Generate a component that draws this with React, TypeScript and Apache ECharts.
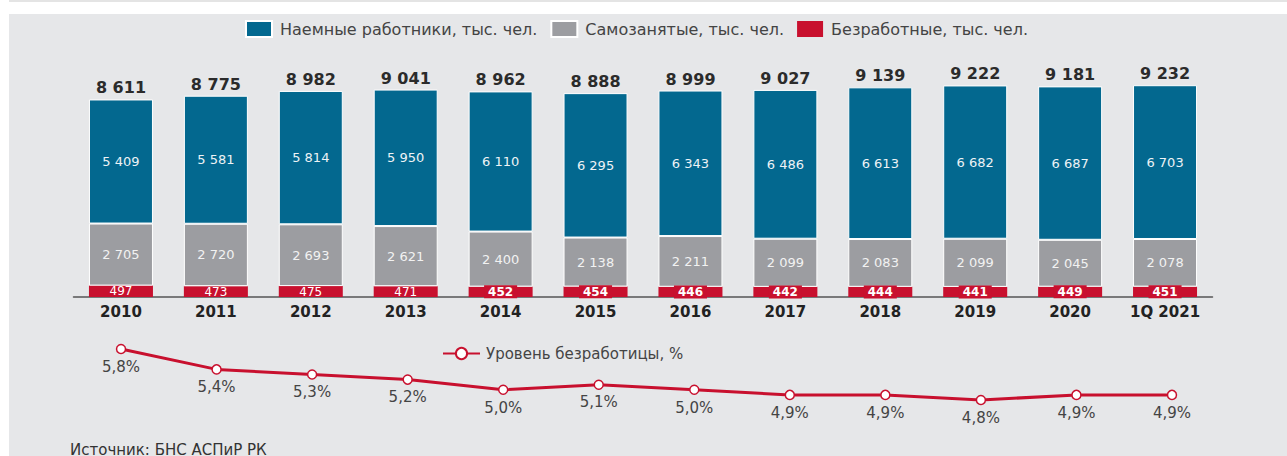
import React, { useEffect, useRef } from "react";
import * as echarts from "echarts";

const categories = ["2010", "2011", "2012", "2013", "2014", "2015", "2016", "2017", "2018", "2019", "2020", "1Q 2021"];
const hired = [5409, 5581, 5814, 5950, 6110, 6295, 6343, 6486, 6613, 6682, 6687, 6703];
const selfEmployed = [2705, 2720, 2693, 2621, 2400, 2138, 2211, 2099, 2083, 2099, 2045, 2078];
const unemployed = [497, 473, 475, 471, 452, 454, 446, 442, 444, 441, 449, 451];
const totals = [8611, 8775, 8982, 9041, 8962, 8888, 8999, 9027, 9139, 9222, 9181, 9232];
const rate = [5.8, 5.4, 5.3, 5.2, 5.0, 5.1, 5.0, 4.9, 4.9, 4.8, 4.9, 4.9];

const NAME_HIRED = "Наемные работники, тыс. чел.";
const NAME_SELF = "Самозанятые, тыс. чел.";
const NAME_UNEMP = "Безработные, тыс. чел.";
const NAME_RATE = "Уровень безработицы, %";

const BLUE = "#03688f";
const GRAY = "#9c9da1";
const RED = "#c8102e";
const FONT = "DejaVu Sans";

const fmt = (v: number) => String(v).replace(/\B(?=(\d{3})+(?!\d))/g, " ");

export default function App() {
  const ref = useRef<HTMLDivElement>(null);
  useEffect(() => {
    if (!ref.current) return;
    const chart = echarts.init(ref.current, undefined, { renderer: "svg" });
    chart.setOption({
      animation: false,
      backgroundColor: "#ffffff",
      textStyle: { fontFamily: FONT },
      graphic: [
        { type: "rect", z: -10, shape: { x: 9, y: 0, width: 1278, height: 2 }, style: { fill: "#e4e4e4" } },
        { type: "rect", z: -10, shape: { x: 9, y: 14, width: 1278, height: 442 }, style: { fill: "#e6e7e9" } },
        {
          type: "text",
          left: 70,
          top: 442,
          style: { text: "Источник: БНС АСПиР РК", fill: "#333", font: `15px ${FONT}` },
        },
      ],
      legend: [
        {
          data: [NAME_HIRED, NAME_SELF, NAME_UNEMP],
          left: 245,
          top: 20,
          padding: 0,
          itemWidth: 26,
          itemHeight: 16,
          itemGap: 13,
          icon: "rect",
          textStyle: { fontSize: 16, color: "#444", fontFamily: FONT, padding: [0, 0, 0, 3] },
        },
        {
          data: [NAME_RATE],
          left: 442,
          top: 346,
          padding: 0,
          itemWidth: 37,
          itemHeight: 14,
          textStyle: { fontSize: 15, color: "#444", fontFamily: FONT, padding: [0, 0, 0, 1] },
        },
      ],
      grid: [
        { left: 73.5, width: 1139, top: 67.6, height: 229.4 },
        { left: 73.25, width: 1146.5, top: 338.8, height: 102 },
      ],
      xAxis: [
        {
          type: "category",
          gridIndex: 0,
          data: categories,
          axisLine: { lineStyle: { color: "#555", width: 1.5 } },
          axisTick: { show: false },
          axisLabel: { fontSize: 15, fontWeight: "bold", color: "#222", margin: 7, fontFamily: FONT },
        },
        {
          type: "category",
          gridIndex: 1,
          data: categories,
          show: false,
        },
      ],
      yAxis: [
        { type: "value", gridIndex: 0, min: 0, max: 10000, show: false },
        { type: "value", gridIndex: 1, min: 4, max: 6, show: false },
      ],
      series: [
        {
          name: NAME_UNEMP,
          type: "bar",
          stack: "total",
          barWidth: 64,
          xAxisIndex: 0,
          yAxisIndex: 0,
          itemStyle: { color: RED },
          data: unemployed.map((v, i) => ({
            value: v,
            label:
              i < 4
                ? { fontWeight: "normal" }
                : { fontWeight: "bold", backgroundColor: RED, padding: [1, 4, 0, 4] },
          })),
          label: {
            show: true,
            position: "inside",
            color: "#fff",
            fontSize: 12,
            lineHeight: 12,
            fontFamily: FONT,
            formatter: (p: any) => fmt(p.value),
          },
        },
        {
          name: NAME_SELF,
          type: "bar",
          stack: "total",
          xAxisIndex: 0,
          yAxisIndex: 0,
          itemStyle: { color: GRAY, borderColor: "#fff", borderWidth: 1 },
          data: selfEmployed,
          label: {
            show: true,
            position: "inside",
            color: "#f2f2f2",
            fontSize: 13,
            fontFamily: FONT,
            formatter: (p: any) => fmt(p.value),
          },
        },
        {
          name: NAME_HIRED,
          type: "bar",
          stack: "total",
          xAxisIndex: 0,
          yAxisIndex: 0,
          itemStyle: { color: BLUE, borderColor: "#fff", borderWidth: 1 },
          data: hired,
          label: {
            show: true,
            position: "inside",
            color: "#eef3f6",
            fontSize: 13,
            fontFamily: FONT,
            formatter: (p: any) => fmt(p.value),
          },
        },
        {
          name: "totals",
          type: "line",
          xAxisIndex: 0,
          yAxisIndex: 0,
          data: totals,
          symbol: "circle",
          symbolSize: 1,
          itemStyle: { color: "rgba(0,0,0,0)" },
          lineStyle: { width: 0, opacity: 0 },
          silent: true,
          label: {
            show: true,
            position: "top",
            distance: 3,
            color: "#2b2b2b",
            fontSize: 16,
            fontWeight: "bold",
            fontFamily: FONT,
            formatter: (p: any) => fmt(p.value),
          },
        },
        {
          name: NAME_RATE,
          type: "line",
          xAxisIndex: 1,
          yAxisIndex: 1,
          data: rate,
          symbol: "circle",
          symbolSize: 9,
          showAllSymbol: true,
          lineStyle: { color: RED, width: 3 },
          itemStyle: { color: "#fff", borderColor: RED, borderWidth: 1.5 },
          label: {
            show: true,
            position: "bottom",
            distance: 5,
            color: "#444",
            fontSize: 15,
            fontFamily: FONT,
            formatter: (p: any) => p.value.toFixed(1).replace(".", ",") + "%",
          },
        },
      ],
    });
    return () => chart.dispose();
  }, []);
  return (
    <div
      ref={ref}
      style={{ position: "fixed", left: 0, top: 0, width: 1287, height: 456 }}
    />
  );
}
